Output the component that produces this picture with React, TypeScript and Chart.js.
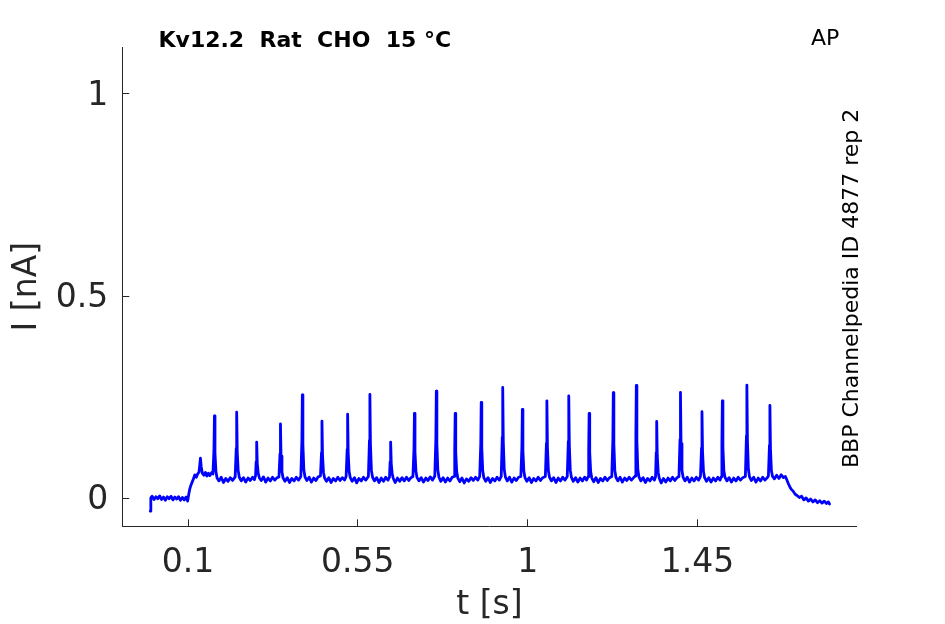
import React, { useEffect, useRef } from "react";
import { Chart, registerables } from "chart.js";

Chart.register(...registerables);

// ---- data -----------------------------------------------------------
const xTickValues = [0.1, 0.55, 1, 1.45];
const xTickLabels = ["0.1", "0.55", "1", "1.45"];
const yTickValues = [0, 0.5, 1];
const yTickLabels = ["0", "0.5", "1"];

const xLabel = "t [s]";
const yLabel = "I [nA]";
const titleText = "Kv12.2  Rat  CHO  15 °C";
const cornerText = "AP";
const sideText = "BBP Channelpedia ID 4877 rep 2";

// recorded current trace: [time (s), current (nA)]
const tracePoints: [number, number][] = [
  [0, -0.032], [0.0015, 0.001], [0.005, 0.005], [0.01, -0.003], [0.015, 0.004], [0.02, -0.001], [0.025, 0.006], [0.03, -0.003],
  [0.035, 0.003], [0.04, -0.005], [0.045, 0.004], [0.05, -0.001], [0.055, 0.005], [0.06, -0.004], [0.065, 0.003], [0.07, -0.002],
  [0.075, 0.004], [0.08, -0.005], [0.085, 0.002], [0.09, -0.004], [0.095, 0.003], [0.099, -0.007],
  [0.102, 0.01], [0.105, 0.024], [0.108, 0.033], [0.111, 0.04], [0.114, 0.047], [0.118, 0.058], [0.122, 0.052], [0.126, 0.061],
  [0.129, 0.064], [0.131, 0.08], [0.133, 0.099], [0.135, 0.078], [0.138, 0.062], [0.142, 0.057], [0.146, 0.064], [0.15, 0.055],
  [0.154, 0.062], [0.158, 0.056], [0.162, 0.063], [0.166, 0.06],
  [0.1688, 0.119], [0.17, 0.204], [0.1715, 0.112], [0.174, 0.066], [0.177, 0.05], [0.182, 0.043], [0.188, 0.052], [0.194, 0.039], [0.2, 0.049], [0.206, 0.042], [0.212, 0.051], [0.218, 0.044], [0.225, 0.053],
  [0.2278, 0.123], [0.229, 0.213], [0.2305, 0.115], [0.233, 0.068], [0.236, 0.052], [0.241, 0.043], [0.247, 0.051], [0.253, 0.04], [0.259, 0.05], [0.265, 0.044], [0.271, 0.052], [0.276, 0.046], [0.279, 0.056],
  [0.2806, 0.09], [0.282, 0.139], [0.2836, 0.086], [0.286, 0.062], [0.289, 0.051], [0.294, 0.044], [0.3, 0.053], [0.306, 0.04], [0.312, 0.05], [0.318, 0.043], [0.324, 0.052], [0.33, 0.045], [0.336, 0.051], [0.341, 0.053],
  [0.3438, 0.11], [0.345, 0.184], [0.3465, 0.104], [0.349, 0.065], [0.352, 0.05], [0.357, 0.042], [0.363, 0.051], [0.369, 0.039], [0.375, 0.049], [0.381, 0.043], [0.387, 0.052], [0.393, 0.045], [0.399, 0.054],
  [0.4018, 0.143], [0.403, 0.256], [0.4045, 0.132], [0.407, 0.07], [0.41, 0.053], [0.415, 0.044], [0.421, 0.052], [0.427, 0.04], [0.433, 0.05], [0.439, 0.044], [0.445, 0.053], [0.451, 0.055],
  [0.4538, 0.113], [0.455, 0.191], [0.4565, 0.106], [0.459, 0.064], [0.462, 0.05], [0.467, 0.042], [0.473, 0.051], [0.479, 0.039], [0.485, 0.049], [0.491, 0.043], [0.497, 0.052], [0.503, 0.044], [0.509, 0.051], [0.515, 0.045], [0.519, 0.054],
  [0.5218, 0.121], [0.523, 0.208], [0.5245, 0.113], [0.527, 0.066], [0.53, 0.051], [0.535, 0.042], [0.541, 0.051], [0.547, 0.038], [0.553, 0.049], [0.559, 0.043], [0.565, 0.052], [0.571, 0.045], [0.578, 0.054],
  [0.5808, 0.143], [0.582, 0.257], [0.5835, 0.133], [0.586, 0.069], [0.589, 0.052], [0.594, 0.043], [0.6, 0.051], [0.606, 0.039], [0.612, 0.05], [0.618, 0.042], [0.624, 0.052], [0.63, 0.045], [0.634, 0.053],
  [0.6356, 0.09], [0.637, 0.139], [0.6386, 0.086], [0.641, 0.061], [0.644, 0.049], [0.649, 0.039], [0.655, 0.05], [0.661, 0.042], [0.667, 0.051], [0.673, 0.043], [0.679, 0.052], [0.685, 0.044], [0.691, 0.051], [0.696, 0.054],
  [0.6988, 0.122], [0.7, 0.21], [0.7015, 0.114], [0.704, 0.066], [0.707, 0.051], [0.712, 0.043], [0.718, 0.051], [0.724, 0.04], [0.73, 0.05], [0.736, 0.044], [0.742, 0.053], [0.748, 0.045], [0.754, 0.055],
  [0.7568, 0.147], [0.758, 0.265], [0.7595, 0.136], [0.762, 0.07], [0.765, 0.052], [0.77, 0.042], [0.776, 0.051], [0.782, 0.04], [0.788, 0.05], [0.794, 0.043], [0.8, 0.052], [0.805, 0.054],
  [0.8068, 0.122], [0.808, 0.21], [0.8095, 0.114], [0.812, 0.066], [0.815, 0.05], [0.82, 0.041], [0.826, 0.05], [0.832, 0.038], [0.838, 0.048], [0.844, 0.042], [0.85, 0.051], [0.856, 0.044], [0.862, 0.052], [0.868, 0.045], [0.873, 0.054],
  [0.8758, 0.134], [0.877, 0.237], [0.8785, 0.125], [0.881, 0.068], [0.884, 0.051], [0.889, 0.042], [0.895, 0.051], [0.901, 0.039], [0.907, 0.049], [0.913, 0.043], [0.919, 0.052], [0.925, 0.045], [0.93, 0.054],
  [0.9328, 0.151], [0.934, 0.274], [0.9355, 0.14], [0.938, 0.071], [0.941, 0.053], [0.946, 0.043], [0.952, 0.052], [0.958, 0.04], [0.964, 0.05], [0.97, 0.044], [0.976, 0.052], [0.982, 0.054],
  [0.9848, 0.127], [0.986, 0.22], [0.9875, 0.118], [0.99, 0.067], [0.993, 0.051], [0.998, 0.042], [1.004, 0.051], [1.01, 0.039], [1.016, 0.049], [1.022, 0.043], [1.028, 0.052], [1.034, 0.044], [1.04, 0.051], [1.047, 0.054],
  [1.0498, 0.136], [1.051, 0.241], [1.0525, 0.126], [1.055, 0.068], [1.058, 0.052], [1.063, 0.043], [1.069, 0.051], [1.075, 0.039], [1.081, 0.05], [1.087, 0.043], [1.093, 0.052], [1.099, 0.045], [1.105, 0.054],
  [1.1078, 0.141], [1.109, 0.253], [1.1105, 0.131], [1.113, 0.069], [1.116, 0.052], [1.121, 0.042], [1.127, 0.051], [1.133, 0.04], [1.139, 0.05], [1.145, 0.043], [1.151, 0.052], [1.156, 0.045], [1.16, 0.053],
  [1.1618, 0.122], [1.163, 0.21], [1.1645, 0.114], [1.167, 0.066], [1.17, 0.05], [1.175, 0.041], [1.181, 0.051], [1.187, 0.039], [1.193, 0.049], [1.199, 0.043], [1.205, 0.052], [1.211, 0.044], [1.217, 0.051], [1.223, 0.054],
  [1.2258, 0.145], [1.227, 0.261], [1.2285, 0.134], [1.231, 0.069], [1.234, 0.052], [1.239, 0.043], [1.245, 0.052], [1.251, 0.04], [1.257, 0.05], [1.263, 0.044], [1.269, 0.052], [1.275, 0.045], [1.281, 0.051], [1.285, 0.055],
  [1.2868, 0.153], [1.288, 0.279], [1.2895, 0.142], [1.292, 0.071], [1.295, 0.053], [1.3, 0.043], [1.306, 0.051], [1.312, 0.039], [1.318, 0.049], [1.324, 0.043], [1.33, 0.052], [1.336, 0.045], [1.339, 0.053],
  [1.3408, 0.113], [1.342, 0.19], [1.3435, 0.106], [1.346, 0.064], [1.349, 0.049], [1.354, 0.038], [1.36, 0.049], [1.366, 0.04], [1.372, 0.05], [1.378, 0.043], [1.384, 0.052], [1.39, 0.044], [1.396, 0.051], [1.401, 0.054],
  [1.4038, 0.145], [1.405, 0.262], [1.4065, 0.135], [1.409, 0.069], [1.412, 0.052], [1.417, 0.043], [1.423, 0.052], [1.429, 0.04], [1.435, 0.05], [1.441, 0.043], [1.447, 0.052], [1.453, 0.045], [1.458, 0.054],
  [1.4608, 0.124], [1.462, 0.214], [1.4635, 0.116], [1.466, 0.066], [1.469, 0.051], [1.474, 0.042], [1.48, 0.051], [1.486, 0.04], [1.492, 0.05], [1.498, 0.043], [1.504, 0.052], [1.51, 0.045], [1.513, 0.053],
  [1.5148, 0.136], [1.516, 0.241], [1.5175, 0.126], [1.52, 0.068], [1.523, 0.052], [1.528, 0.043], [1.534, 0.051], [1.54, 0.04], [1.546, 0.05], [1.552, 0.043], [1.558, 0.052], [1.564, 0.045], [1.57, 0.051], [1.577, 0.054],
  [1.5798, 0.154], [1.581, 0.28], [1.5825, 0.142], [1.585, 0.071], [1.588, 0.053], [1.593, 0.044], [1.599, 0.052], [1.605, 0.04], [1.611, 0.05], [1.617, 0.043], [1.623, 0.052], [1.629, 0.045], [1.635, 0.051], [1.638, 0.055],
  [1.6408, 0.131], [1.642, 0.23], [1.6435, 0.122], [1.646, 0.068], [1.649, 0.054], [1.654, 0.048], [1.66, 0.057], [1.666, 0.049], [1.672, 0.058], [1.678, 0.051], [1.683, 0.054],
  [1.687, 0.045], [1.691, 0.036], [1.695, 0.028], [1.699, 0.022], [1.704, 0.017], [1.709, 0.01], [1.714, 0.007], [1.72, 0.002], [1.726, 0.005],
  [1.732, -0.004], [1.738, 0.001], [1.744, -0.007], [1.75, -0.002], [1.756, -0.009], [1.762, -0.004], [1.768, -0.011], [1.774, -0.006],
  [1.78, -0.012], [1.786, -0.007], [1.792, -0.013], [1.797, -0.009], [1.8, -0.014],
];

const xRange = [-0.0741, 1.872];
const yRange = [-0.0693, 1.1162];

// ---- styling --------------------------------------------------------
const FONT = "DejaVu Sans";
const AXIS_COLOR = "#262626";
const LINE_COLOR = "#0000ff";

const annotationPlugin = {
  id: "annotations",
  afterDraw(chart: any) {
    const ctx = chart.ctx as CanvasRenderingContext2D;
    ctx.save();
    ctx.fillStyle = "#000000";
    ctx.textAlign = "left";
    ctx.textBaseline = "alphabetic";
    ctx.font = `bold 22px "${FONT}"`;
    ctx.fillText(titleText, 158.5, 47);
    ctx.font = `22px "${FONT}"`;
    ctx.fillText(cornerText, 811, 45);
    ctx.translate(857.5, 468);
    ctx.rotate(-Math.PI / 2);
    ctx.fillText(sideText, 0, 0);
    ctx.restore();
  },
};

export default function App() {
  const canvasRef = useRef<HTMLCanvasElement | null>(null);

  useEffect(() => {
    const canvas = canvasRef.current;
    if (!canvas) return;
    const chart = new Chart(canvas, {
      type: "line",
      data: {
        datasets: [
          {
            data: tracePoints.map(([t, i]) => ({ x: t, y: i })),
            borderColor: LINE_COLOR,
            borderWidth: 2.8,
            borderJoinStyle: "round",
            borderCapStyle: "round",
            pointRadius: 0,
            tension: 0,
            fill: false,
          },
        ],
      },
      options: {
        responsive: false,
        animation: false,
        events: [],
        layout: { padding: { left: 0, top: 47, right: 88.3, bottom: 0 } },
        plugins: {
          legend: { display: false },
          tooltip: { enabled: false },
          title: { display: false },
        },
        scales: {
          x: {
            type: "linear",
            min: xRange[0],
            max: xRange[1],
            afterBuildTicks: (s: any) => {
              s.ticks = xTickValues.map((v) => ({ value: v }));
            },
            afterFit: (s: any) => {
              s.height = 97.7;
            },
            ticks: {
              autoSkip: false,
              maxRotation: 0,
              padding: 24,
              color: AXIS_COLOR,
              font: { family: FONT, size: 33 },
              callback: (_v: any, idx: number) => xTickLabels[idx],
            },
            grid: {
              display: true,
              drawOnChartArea: false,
              drawTicks: true,
              tickLength: -7,
              color: AXIS_COLOR,
              lineWidth: 1,
            },
            border: { display: true, color: AXIS_COLOR, width: 1 },
            title: {
              display: true,
              text: xLabel,
              color: AXIS_COLOR,
              font: { family: FONT, size: 33, lineHeight: 1 },
              padding: { top: 0, bottom: 2 },
            },
          },
          y: {
            type: "linear",
            min: yRange[0],
            max: yRange[1],
            afterBuildTicks: (s: any) => {
              s.ticks = yTickValues.map((v) => ({ value: v }));
            },
            afterFit: (s: any) => {
              s.width = 122.3;
            },
            ticks: {
              autoSkip: false,
              padding: 21,
              labelOffset: 2,
              color: AXIS_COLOR,
              font: { family: FONT, size: 33 },
              callback: (_v: any, idx: number) => yTickLabels[idx],
            },
            grid: {
              display: true,
              drawOnChartArea: false,
              drawTicks: true,
              tickLength: -7,
              color: AXIS_COLOR,
              lineWidth: 1,
            },
            border: { display: true, color: AXIS_COLOR, width: 1 },
            title: {
              display: true,
              text: yLabel,
              color: AXIS_COLOR,
              font: { family: FONT, size: 33, lineHeight: 1 },
              padding: { top: 11, bottom: 0 },
            },
          },
        },
      } as any,
      plugins: [annotationPlugin],
    });
    return () => chart.destroy();
  }, []);

  return (
    <div style={{ position: "absolute", left: 0, top: 0, width: 945, height: 624, background: "#ffffff" }}>
      <canvas ref={canvasRef} width={945} height={624} style={{ display: "block", width: 945, height: 624 }} />
    </div>
  );
}
